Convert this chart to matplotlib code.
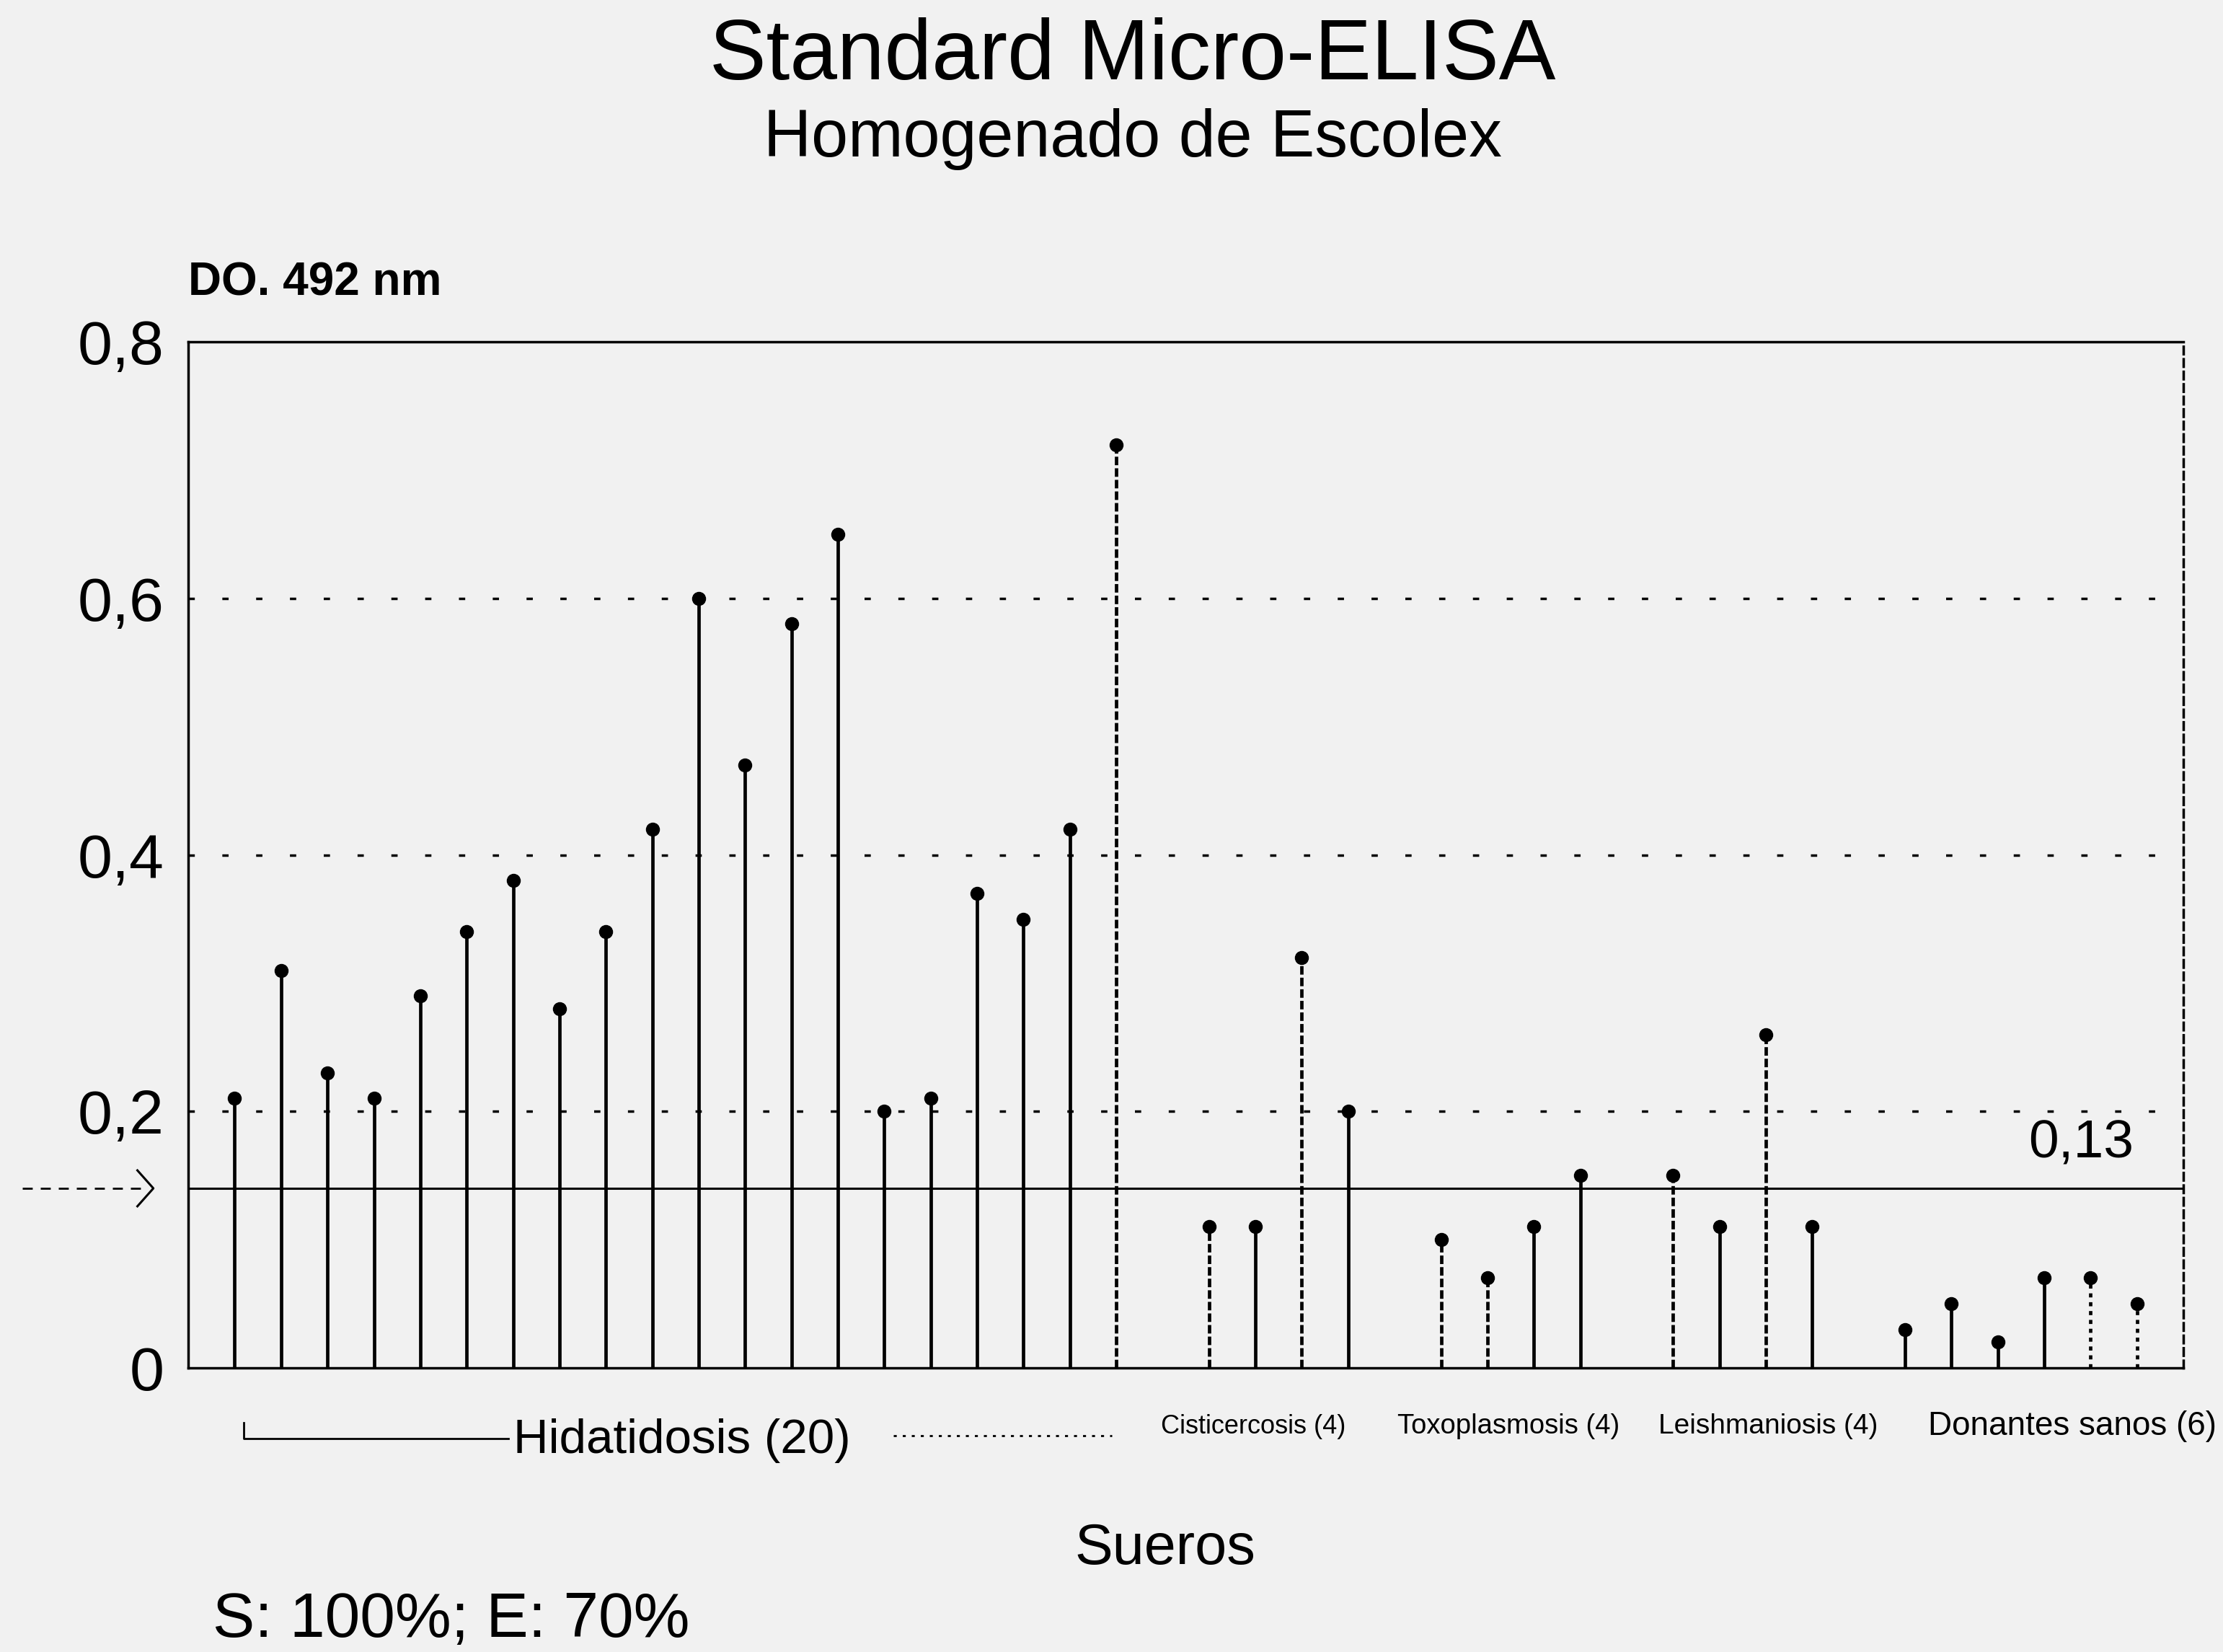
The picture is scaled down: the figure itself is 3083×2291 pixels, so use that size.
import matplotlib
matplotlib.use("Agg")
import matplotlib.pyplot as plt
from matplotlib.transforms import blended_transform_factory
from matplotlib.lines import Line2D

plt.rcParams['font.family'] = ['Liberation Sans', 'DejaVu Sans']

# ---------------- data ----------------
hidatidosis = [0.21, 0.31, 0.23, 0.21, 0.29, 0.34, 0.38, 0.28, 0.34, 0.42,
               0.60, 0.47, 0.58, 0.65, 0.20, 0.21, 0.37, 0.35, 0.42, 0.72]
cisticercosis = [0.11, 0.11, 0.32, 0.20]
toxoplasmosis = [0.10, 0.07, 0.11, 0.15]
leishmaniosis = [0.15, 0.11, 0.26, 0.11]
donantes = [0.03, 0.05, 0.02, 0.07, 0.07, 0.05]
groups = [hidatidosis, cisticercosis, toxoplasmosis, leishmaniosis, donantes]
group_labels = ["Hidatidosis (20)", "Cisticercosis (4)", "Toxoplasmosis (4)",
                "Leishmaniosis (4)", "Donantes sanos (6)"]
cutoff = 0.14          # drawn position of the cut-off line
cutoff_label = "0,13"
yticks = [0, 0.2, 0.4, 0.6, 0.8]
ytick_labels = ["0", "0,2", "0,4", "0,6", "0,8"]

# stem line styles ('s' solid, 'd' dashed, 'o' dotted)
stem_styles = (['s'] * 19 + ['d'] +
               ['d', 's', 'd', 's'] +
               ['d', 'd', 's', 's'] +
               ['d', 's', 'd', 's'] +
               ['s', 's', 's', 's', 'o', 'o'])

# ---------------- positions ----------------
xs, ys = [], []
pos = 0
for g in groups:
    for v in g:
        xs.append(pos)
        ys.append(v)
        pos += 1
    pos += 1  # gap between groups

style_map = {'s': 'solid', 'd': (0, (2.5, 0.9)), 'o': (0, (1.2, 1.4))}

bg = '#f1f1f1'
fig = plt.figure(figsize=(30.83, 22.91), dpi=100, facecolor=bg)
ax = fig.add_axes([0.0847, 0.172, 0.8975, 0.621])
ax.set_facecolor(bg)

ax.set_xlim(-1, 42)
ax.set_ylim(0, 0.8)

# dotted grid lines
for yv in yticks[1:4]:
    ax.axhline(yv, color='black', lw=2.5, linestyle=(0, (2.5, 11)), zorder=1)

# stems
for x, y, s in zip(xs, ys, stem_styles):
    ax.vlines(x, 0, y, colors='black', lw=3.4, linestyles=style_map[s], zorder=3)
ax.plot(xs, ys, 'o', color='black', markersize=13, zorder=4)

# cut-off line
ax.axhline(cutoff, color='black', lw=2.2, zorder=2)
ax.text(39.8, cutoff + 0.035, cutoff_label, fontsize=54, ha='center', va='center')

# spines
for sp in ['left', 'bottom', 'top']:
    ax.spines[sp].set_linewidth(2.5)
ax.spines['right'].set_linewidth(2.5)
ax.spines['right'].set_linestyle((0, (3, 2)))

ax.set_yticks(yticks)
ax.set_yticklabels(ytick_labels, fontsize=62)
ax.tick_params(axis='y', length=0, pad=24)
ax.set_xticks([])

# arrow pointing to cut-off
tr_arrow = blended_transform_factory(ax.transAxes, ax.transData)
ax.add_line(Line2D([-0.083, -0.020], [cutoff, cutoff], transform=tr_arrow,
                   color='black', lw=2.0, linestyle=(0, (5, 4)), clip_on=False))
ax.add_line(Line2D([-0.0255, -0.0175, -0.0255],
                   [cutoff + 0.014, cutoff, cutoff - 0.014], transform=tr_arrow,
                   color='black', lw=2.2, clip_on=False))

# titles
fig.text(0.5096, 0.9655, "Standard Micro-ELISA", fontsize=85, ha='center', va='center')
fig.text(0.5096, 0.9157, "Homogenado de Escolex", fontsize=66, ha='center', va='center')
fig.text(0.0847, 0.8285, "DO. 492 nm", fontsize=46, fontweight='bold', ha='left', va='center')

# group labels
trb = blended_transform_factory(ax.transData, fig.transFigure)
ax.add_line(Line2D([0.2, 0.2, 5.9], [0.139, 0.129, 0.129], transform=trb,
                   color='black', lw=2.0, clip_on=False))
ax.text(6.0, 0.128, group_labels[0], transform=trb, fontsize=48.5, ha='left', va='center')
ax.add_line(Line2D([14.2, 18.9], [0.131, 0.131], transform=trb,
                   color='black', lw=2.0, linestyle=(0, (1.5, 3)), clip_on=False))
small_centers = [21.95, 27.45, 33.05, 39.6]
small_sizes = [26, 27.5, 28, 33]
for lbl, cx, fs in zip(group_labels[1:], small_centers, small_sizes):
    ax.text(cx, 0.1366, lbl, transform=trb, fontsize=fs, ha='center', va='center')

fig.text(0.524, 0.062, "Sueros", fontsize=57, ha='center', va='center')
fig.text(0.0957, 0.019, "S: 100%; E: 70%", fontsize=63, ha='left', va='center')

fig.savefig("out.png", dpi=100, facecolor=bg)
